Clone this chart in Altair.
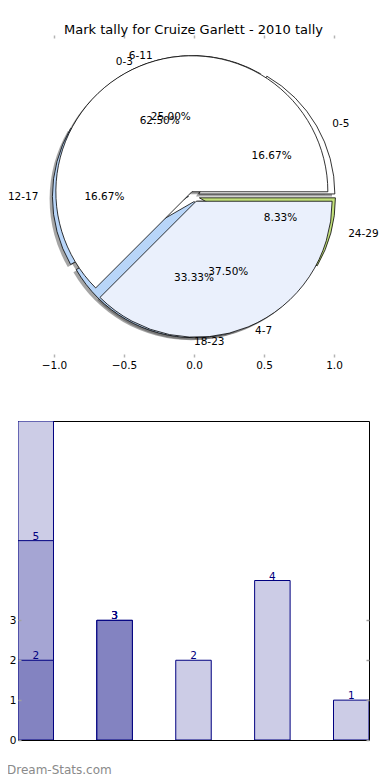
import math
import altair as alt
import pandas as pd

# ---------------- data ----------------
TITLE = "Mark tally for Cruize Garlett - 2010 tally"
WATERMARK = "Dream-Stats.com"

pie1_labels = ["0-5", "6-11", "12-17", "18-23", "24-29"]
pie1_values = [2, 3, 2, 4, 1]
pie1_colors = ["#ffffff", "#ffffff", "#b8d5f8", "#b8d5f8", "#c2e07a"]

pie2_labels = ["0-3", "4-7"]
pie2_values = [5, 3]
pie2_colors = ["#ffffff", "#eaf0fc"]

pie_x_ticks = [-1.0, -0.5, 0.0, 0.5, 1.0]

bar_positions = [0, 1, 2, 3, 4]
light_values = [8, 3, 2, 4, 1]
medium_values = [5, 3]
dark_values = [2, 3]
bar_series_colors = {"light": "#cccce6", "medium": "#a5a5d3", "dark": "#8383c1"}
bar_y_ticks = [0, 1, 2, 3]

EXPLODE = 0.04
SHADOW = 0.02
R_PX = 136
FONT = "DejaVu Sans"


def pie_rows(labels, values, colors, pie_id):
    total = sum(values)
    rows, cum = [], 0
    for lab, v, c in zip(labels, values, colors):
        a1 = 360.0 * cum / total
        cum += v
        a2 = 360.0 * cum / total
        mid = math.radians((a1 + a2) / 2)
        cx, cy = EXPLODE * math.cos(mid), EXPLODE * math.sin(mid)
        c_mid = math.cos(mid)
        if c_mid > -1e-9:
            side = "left"
        elif c_mid < -0.99:
            side = "edge"
        else:
            side = "right"
        rows.append(dict(
            pie=pie_id, label=lab, value=v, color=c,
            theta=math.radians(450 - a2), theta2=math.radians(450 - a1),
            cx=cx, cy=cy, sx=cx - SHADOW, sy=cy - SHADOW,
            lx=cx + 1.1 * math.cos(mid), ly=cy + 1.1 * math.sin(mid),
            px=cx + 0.6 * math.cos(mid), py=cy + 0.6 * math.sin(mid),
            side=side,
            pct=f"{100.0 * v / total:.2f}%"))
    return rows


pie_df = pd.DataFrame(pie_rows(pie1_labels, pie1_values, pie1_colors, 1)
                      + pie_rows(pie2_labels, pie2_values, pie2_colors, 2))

xs = alt.Scale(domain=[-1.2571, 1.25], nice=False, zero=False)
ys = alt.Scale(domain=[-1.230, 1.238], nice=False, zero=False)

axis_bottom = alt.Axis(values=pie_x_ticks, format=".1f", orient="bottom", domain=False,
                       grid=False, tickColor="#b4b4b4", tickSize=3, tickWidth=1.5,
                       labelFontSize=10.5, labelFont=FONT, labelColor="#000000",
                       labelPadding=3, title=None)
axis_top = alt.Axis(values=pie_x_ticks, orient="top", labels=False, domain=False,
                    grid=False, tickColor="#b4b4b4", tickSize=3, tickWidth=1.5, title=None)

base = alt.Chart(pie_df)

shadows = base.mark_arc(radius=R_PX, fill="#4c4c4c", opacity=0.5).encode(
    x=alt.X("sx:Q", scale=xs, axis=axis_bottom),
    y=alt.Y("sy:Q", scale=ys, axis=None),
    theta=alt.Theta("theta:Q", scale=None),
    theta2="theta2:Q",
)


def wedges(pid):
    return base.transform_filter(f"datum.pie == {pid}").mark_arc(
        radius=R_PX, stroke="#000000", strokeWidth=0.8).encode(
        x=alt.X("cx:Q", scale=xs, axis=None),
        y=alt.Y("cy:Q", scale=ys, axis=None),
        theta=alt.Theta("theta:Q", scale=None),
        theta2="theta2:Q",
        fill=alt.Color("color:N", scale=None),
    )


def labels(side, align, dx):
    return base.transform_filter(f"datum.side == '{side}'").mark_text(
        align=align, baseline="middle", fontSize=10.5, font=FONT, color="#000000",
        dx=dx).encode(
        x=alt.X("lx:Q", scale=xs, axis=None),
        y=alt.Y("ly:Q", scale=ys, axis=None),
        text="label:N",
    )


pcts = base.mark_text(align="center", baseline="middle", fontSize=10.5, font=FONT,
                      color="#000000").encode(
    x=alt.X("px:Q", scale=xs, axis=axis_top),
    y=alt.Y("py:Q", scale=ys, axis=None),
    text="pct:N",
)

pie_chart = alt.layer(
    shadows, wedges(1), wedges(2),
    labels("left", "left", 0), labels("right", "right", 0), labels("edge", "right", 4),
    pcts
).resolve_axis(x="independent").properties(
    width=351, height=316,
    title=alt.TitleParams(TITLE, fontSize=13, font=FONT, fontWeight="normal",
                          color="#000000", anchor="middle", offset=-3),
    view=alt.ViewBackground(stroke="transparent"),
)

# ---------------- bars ----------------
bar_rows = []
for series, vals in [("light", light_values), ("medium", medium_values), ("dark", dark_values)]:
    for p, v in zip(bar_positions, vals):
        bar_rows.append(dict(pos=p, value=v, series=series, color=bar_series_colors[series]))
bar_df = pd.DataFrame(bar_rows)

bx = alt.Scale(domain=[-0.225, 4.225], nice=False, zero=False)
by = alt.Scale(domain=[0, 8], nice=False)

axis_left = alt.Axis(values=bar_y_ticks, orient="left", domain=False, grid=False,
                     tickColor="#a0a0a0", tickSize=3, tickWidth=1.5, offset=-3,
                     labelFontSize=10.5, labelFont=FONT, labelColor="#000000",
                     labelPadding=2, title=None, zindex=1)
axis_right = alt.Axis(values=bar_y_ticks, orient="right", labels=False, domain=False,
                      grid=False, tickColor="#a0a0a0", tickSize=3, tickWidth=1.5,
                      offset=-3, title=None, zindex=1)

bbase = alt.Chart(bar_df).transform_calculate(
    x0="datum.pos - 0.225", x1="datum.pos + 0.225", y0="0")

bars = bbase.mark_rect(stroke="#000080", strokeWidth=1, clip=True).encode(
    x=alt.X("x0:Q", scale=bx, axis=None),
    x2="x1:Q",
    y=alt.Y("value:Q", scale=by, axis=axis_left),
    y2="y0:Q",
    fill=alt.Color("color:N", scale=None),
)

bar_text = bbase.mark_text(align="center", baseline="alphabetic", dy=-1, fontSize=10.5,
                           font=FONT, color="#000080", clip=True).encode(
    x=alt.X("pos:Q", scale=bx, axis=None),
    y=alt.Y("value:Q", scale=by, axis=axis_right),
    text="value:Q",
)

mark = alt.Chart(pd.DataFrame({"t": [WATERMARK]})).mark_text(
    align="left", baseline="middle", fontSize=12, font=FONT, color="#8a8a8a").encode(
    x=alt.value(-11), y=alt.value(349), text="t:N")

bar_chart = alt.layer(bars, bar_text, mark).resolve_axis(y="independent").properties(
    width=351, height=319,
    view=alt.ViewBackground(stroke="#000000", strokeWidth=1),
)

chart = alt.vconcat(pie_chart, bar_chart, spacing=49).properties(
    padding={"left": -2, "top": 15, "right": 0, "bottom": 0},
    background="#ffffff",
)

chart.save("out.html", embed_options={"renderer": "svg", "actions": False})
